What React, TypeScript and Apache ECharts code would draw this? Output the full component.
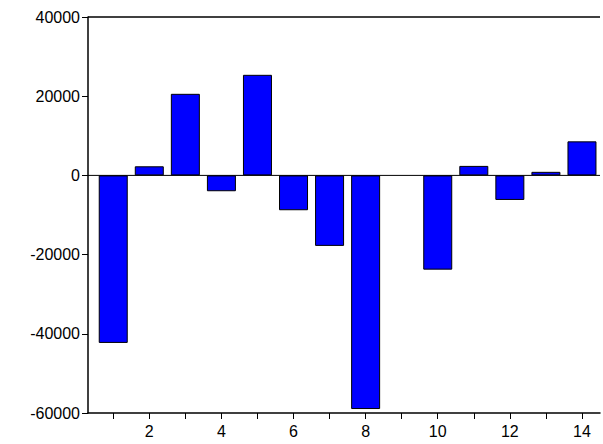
import { useEffect, useRef } from 'react';
import * as echarts from 'echarts';

const periods = [1, 2, 3, 4, 5, 6, 7, 8, 9, 10, 11, 12, 13, 14];
const values = [-42300, 2300, 20600, -4000, 25400, -8800, -17800, -59000, null, -23800, 2400, -6200, 900, 8600];
const xLabels = [2, 4, 6, 8, 10, 12, 14];
const yTicks = [-60000, -40000, -20000, 0, 20000, 40000];

const App = () => {
  const chartRef = useRef<HTMLDivElement>(null);

  useEffect(() => {
    if (!chartRef.current) return;
    const myChart = echarts.init(chartRef.current, null, { renderer: 'svg' });

    const option = {
      animation: false,
      grid: { left: 88, right: 3, top: 17, bottom: 31 },
      xAxis: {
        type: 'value',
        min: 0.3,
        max: 14.5,
        splitLine: { show: false },
        axisLine: { onZero: false, lineStyle: { color: '#000', width: 1.5 } },
        axisTick: { customValues: periods, length: 6, lineStyle: { color: '#000' } },
        axisLabel: { customValues: xLabels, color: '#000', fontSize: 16, fontFamily: 'Arial', margin: 10 }
      },
      yAxis: {
        type: 'value',
        min: -60000,
        max: 40000,
        interval: 20000,
        splitLine: { show: false },
        axisLine: { show: true, lineStyle: { color: '#000', width: 1.5 } },
        axisTick: { show: true, length: 6, lineStyle: { color: '#000' } },
        axisLabel: {
          customValues: yTicks,
          formatter: (v: number) => String(v),
          color: '#000',
          fontSize: 16,
          fontFamily: 'Arial',
          margin: 8
        }
      },
      graphic: [
        { type: 'line', shape: { x1: 88, y1: 17, x2: 600, y2: 17 }, style: { stroke: '#000', lineWidth: 1.5 } }
      ],
      series: [
        {
          type: 'bar',
          data: periods.map((p, i) => [p, values[i]]),
          barWidth: 29,
          itemStyle: { color: '#0000ff', borderColor: '#000', borderWidth: 1 }
        },
        {
          type: 'line',
          data: [[0.3, 0], [14.5, 0]],
          symbol: 'none',
          lineStyle: { color: '#000', width: 1 },
          z: 1
        }
      ]
    };

    myChart.setOption(option);
    return () => myChart.dispose();
  }, []);

  return <div ref={chartRef} style={{ position: 'fixed', left: 0, top: 0, width: 603, height: 444, background: '#fff' }} />;
};

export default App;
